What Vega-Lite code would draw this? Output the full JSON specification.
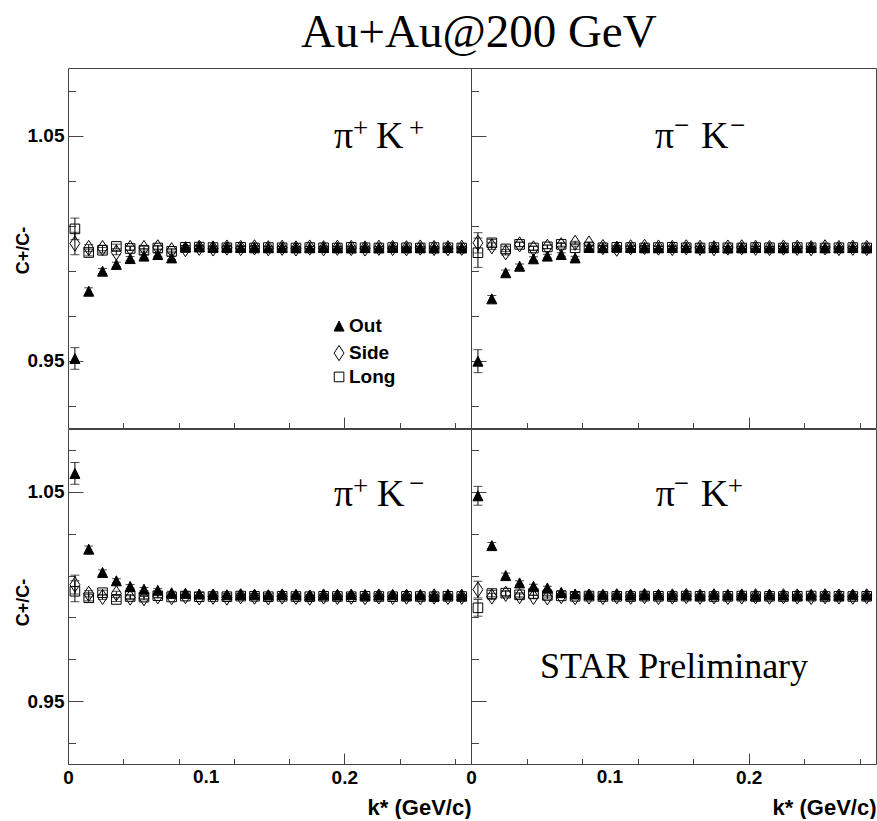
{
  "$schema": "https://vega.github.io/schema/vega-lite/v6.json",
  "padding": {"left": 13, "top": 8, "right": 0, "bottom": 0},
  "title": {"text": "Au+Au@200 GeV", "font": "Liberation Serif", "fontSize": 47, "fontWeight": "normal", "color": "black", "anchor": "start", "frame": "group", "baseline": "alphabetic", "offset": -26, "dx": 233},
  "config": {
    "view": {"stroke": "#444", "strokeWidth": 1},
    "axis": {"labelFont": "Liberation Sans", "labelFontWeight": "bold", "labelFontSize": 19, "labelColor": "black", "labelFlush": false, "labelOverlap": false, "labelBound": false, "titleFont": "Liberation Sans", "titleFontWeight": "bold", "titleColor": "black", "domain": false, "grid": false, "tickColor": "#444", "tickWidth": 1}
  },
  "datasets": {
    "pts": [
      {"panel":"TL","series":"Out","k":0.005,"ratio":0.9509,"err":0.0048},
      {"panel":"TL","series":"Out","k":0.015,"ratio":0.9808,"err":0.0015},
      {"panel":"TL","series":"Out","k":0.025,"ratio":0.9897,"err":0.0012},
      {"panel":"TL","series":"Out","k":0.035,"ratio":0.9927,"err":0.001},
      {"panel":"TL","series":"Out","k":0.045,"ratio":0.9953,"err":0.0009},
      {"panel":"TL","series":"Out","k":0.055,"ratio":0.9964,"err":0.0008},
      {"panel":"TL","series":"Out","k":0.065,"ratio":0.9971,"err":0.0008},
      {"panel":"TL","series":"Out","k":0.075,"ratio":0.9956,"err":0.0007},
      {"panel":"TL","series":"Out","k":0.085,"ratio":1.0004,"err":0.0007},
      {"panel":"TL","series":"Out","k":0.095,"ratio":1.0006,"err":0.0007},
      {"panel":"TL","series":"Out","k":0.105,"ratio":1.0003,"err":0.0006},
      {"panel":"TL","series":"Out","k":0.115,"ratio":1.0005,"err":0.0006},
      {"panel":"TL","series":"Out","k":0.125,"ratio":1.0002,"err":0.0006},
      {"panel":"TL","series":"Out","k":0.135,"ratio":1.0004,"err":0.0006},
      {"panel":"TL","series":"Out","k":0.145,"ratio":1.0001,"err":0.0006},
      {"panel":"TL","series":"Out","k":0.155,"ratio":1.0003,"err":0.0005},
      {"panel":"TL","series":"Out","k":0.165,"ratio":1.0002,"err":0.0005},
      {"panel":"TL","series":"Out","k":0.175,"ratio":1.0001,"err":0.0005},
      {"panel":"TL","series":"Out","k":0.185,"ratio":1.0003,"err":0.0005},
      {"panel":"TL","series":"Out","k":0.195,"ratio":1.0002,"err":0.0005},
      {"panel":"TL","series":"Out","k":0.205,"ratio":1.0000,"err":0.0005},
      {"panel":"TL","series":"Out","k":0.215,"ratio":1.0002,"err":0.0005},
      {"panel":"TL","series":"Out","k":0.225,"ratio":1.0001,"err":0.0005},
      {"panel":"TL","series":"Out","k":0.235,"ratio":1.0003,"err":0.0004},
      {"panel":"TL","series":"Out","k":0.245,"ratio":1.0001,"err":0.0004},
      {"panel":"TL","series":"Out","k":0.255,"ratio":1.0002,"err":0.0004},
      {"panel":"TL","series":"Out","k":0.265,"ratio":1.0000,"err":0.0004},
      {"panel":"TL","series":"Out","k":0.275,"ratio":1.0002,"err":0.0004},
      {"panel":"TL","series":"Out","k":0.285,"ratio":1.0001,"err":0.0004},
      {"panel":"TL","series":"Side","k":0.005,"ratio":1.0020,"err":0.005},
      {"panel":"TL","series":"Side","k":0.015,"ratio":1.0000,"err":0.0015},
      {"panel":"TL","series":"Side","k":0.025,"ratio":1.0000,"err":0.0012},
      {"panel":"TL","series":"Side","k":0.035,"ratio":0.9980,"err":0.001},
      {"panel":"TL","series":"Side","k":0.045,"ratio":1.0000,"err":0.0009},
      {"panel":"TL","series":"Side","k":0.055,"ratio":1.0000,"err":0.0008},
      {"panel":"TL","series":"Side","k":0.065,"ratio":1.0003,"err":0.0008},
      {"panel":"TL","series":"Side","k":0.075,"ratio":0.9990,"err":0.0007},
      {"panel":"TL","series":"Side","k":0.085,"ratio":0.9995,"err":0.0007},
      {"panel":"TL","series":"Side","k":0.095,"ratio":1.0001,"err":0.0007},
      {"panel":"TL","series":"Side","k":0.105,"ratio":0.9998,"err":0.0006},
      {"panel":"TL","series":"Side","k":0.115,"ratio":1.0002,"err":0.0006},
      {"panel":"TL","series":"Side","k":0.125,"ratio":1.0000,"err":0.0006},
      {"panel":"TL","series":"Side","k":0.135,"ratio":1.0003,"err":0.0006},
      {"panel":"TL","series":"Side","k":0.145,"ratio":0.9999,"err":0.0006},
      {"panel":"TL","series":"Side","k":0.155,"ratio":1.0001,"err":0.0005},
      {"panel":"TL","series":"Side","k":0.165,"ratio":0.9998,"err":0.0005},
      {"panel":"TL","series":"Side","k":0.175,"ratio":1.0002,"err":0.0005},
      {"panel":"TL","series":"Side","k":0.185,"ratio":0.9999,"err":0.0005},
      {"panel":"TL","series":"Side","k":0.195,"ratio":1.0001,"err":0.0005},
      {"panel":"TL","series":"Side","k":0.205,"ratio":1.0000,"err":0.0005},
      {"panel":"TL","series":"Side","k":0.215,"ratio":0.9998,"err":0.0005},
      {"panel":"TL","series":"Side","k":0.225,"ratio":1.0001,"err":0.0005},
      {"panel":"TL","series":"Side","k":0.235,"ratio":1.0000,"err":0.0004},
      {"panel":"TL","series":"Side","k":0.245,"ratio":0.9999,"err":0.0004},
      {"panel":"TL","series":"Side","k":0.255,"ratio":1.0002,"err":0.0004},
      {"panel":"TL","series":"Side","k":0.265,"ratio":1.0000,"err":0.0004},
      {"panel":"TL","series":"Side","k":0.275,"ratio":0.9999,"err":0.0004},
      {"panel":"TL","series":"Side","k":0.285,"ratio":1.0001,"err":0.0004},
      {"panel":"TL","series":"Long","k":0.005,"ratio":1.0085,"err":0.0048},
      {"panel":"TL","series":"Long","k":0.015,"ratio":0.9980,"err":0.0015},
      {"panel":"TL","series":"Long","k":0.025,"ratio":0.9990,"err":0.0012},
      {"panel":"TL","series":"Long","k":0.035,"ratio":1.0007,"err":0.001},
      {"panel":"TL","series":"Long","k":0.045,"ratio":0.9998,"err":0.0009},
      {"panel":"TL","series":"Long","k":0.055,"ratio":0.9990,"err":0.0008},
      {"panel":"TL","series":"Long","k":0.065,"ratio":1.0000,"err":0.0008},
      {"panel":"TL","series":"Long","k":0.075,"ratio":0.9985,"err":0.0007},
      {"panel":"TL","series":"Long","k":0.085,"ratio":1.0003,"err":0.0007},
      {"panel":"TL","series":"Long","k":0.095,"ratio":1.0004,"err":0.0007},
      {"panel":"TL","series":"Long","k":0.105,"ratio":1.0002,"err":0.0006},
      {"panel":"TL","series":"Long","k":0.115,"ratio":1.0001,"err":0.0006},
      {"panel":"TL","series":"Long","k":0.125,"ratio":1.0003,"err":0.0006},
      {"panel":"TL","series":"Long","k":0.135,"ratio":1.0000,"err":0.0006},
      {"panel":"TL","series":"Long","k":0.145,"ratio":1.0002,"err":0.0006},
      {"panel":"TL","series":"Long","k":0.155,"ratio":1.0001,"err":0.0005},
      {"panel":"TL","series":"Long","k":0.165,"ratio":1.0000,"err":0.0005},
      {"panel":"TL","series":"Long","k":0.175,"ratio":1.0002,"err":0.0005},
      {"panel":"TL","series":"Long","k":0.185,"ratio":1.0001,"err":0.0005},
      {"panel":"TL","series":"Long","k":0.195,"ratio":1.0000,"err":0.0005},
      {"panel":"TL","series":"Long","k":0.205,"ratio":1.0003,"err":0.0005},
      {"panel":"TL","series":"Long","k":0.215,"ratio":1.0001,"err":0.0005},
      {"panel":"TL","series":"Long","k":0.225,"ratio":1.0000,"err":0.0005},
      {"panel":"TL","series":"Long","k":0.235,"ratio":1.0002,"err":0.0004},
      {"panel":"TL","series":"Long","k":0.245,"ratio":1.0001,"err":0.0004},
      {"panel":"TL","series":"Long","k":0.255,"ratio":1.0000,"err":0.0004},
      {"panel":"TL","series":"Long","k":0.265,"ratio":1.0002,"err":0.0004},
      {"panel":"TL","series":"Long","k":0.275,"ratio":1.0001,"err":0.0004},
      {"panel":"TL","series":"Long","k":0.285,"ratio":1.0000,"err":0.0004},
      {"panel":"TR","series":"Out","k":0.005,"ratio":0.9497,"err":0.0051},
      {"panel":"TR","series":"Out","k":0.015,"ratio":0.9774,"err":0.0015},
      {"panel":"TR","series":"Out","k":0.025,"ratio":0.9890,"err":0.0012},
      {"panel":"TR","series":"Out","k":0.035,"ratio":0.9919,"err":0.001},
      {"panel":"TR","series":"Out","k":0.045,"ratio":0.9952,"err":0.0009},
      {"panel":"TR","series":"Out","k":0.055,"ratio":0.9964,"err":0.0008},
      {"panel":"TR","series":"Out","k":0.065,"ratio":0.9971,"err":0.0008},
      {"panel":"TR","series":"Out","k":0.075,"ratio":0.9956,"err":0.0007},
      {"panel":"TR","series":"Out","k":0.085,"ratio":1.0003,"err":0.0007},
      {"panel":"TR","series":"Out","k":0.095,"ratio":1.0002,"err":0.0007},
      {"panel":"TR","series":"Out","k":0.105,"ratio":1.0004,"err":0.0006},
      {"panel":"TR","series":"Out","k":0.115,"ratio":1.0002,"err":0.0006},
      {"panel":"TR","series":"Out","k":0.125,"ratio":1.0003,"err":0.0006},
      {"panel":"TR","series":"Out","k":0.135,"ratio":1.0001,"err":0.0006},
      {"panel":"TR","series":"Out","k":0.145,"ratio":1.0002,"err":0.0006},
      {"panel":"TR","series":"Out","k":0.155,"ratio":1.0003,"err":0.0005},
      {"panel":"TR","series":"Out","k":0.165,"ratio":1.0001,"err":0.0005},
      {"panel":"TR","series":"Out","k":0.175,"ratio":1.0002,"err":0.0005},
      {"panel":"TR","series":"Out","k":0.185,"ratio":1.0000,"err":0.0005},
      {"panel":"TR","series":"Out","k":0.195,"ratio":1.0003,"err":0.0005},
      {"panel":"TR","series":"Out","k":0.205,"ratio":1.0002,"err":0.0005},
      {"panel":"TR","series":"Out","k":0.215,"ratio":1.0001,"err":0.0005},
      {"panel":"TR","series":"Out","k":0.225,"ratio":1.0002,"err":0.0005},
      {"panel":"TR","series":"Out","k":0.235,"ratio":1.0001,"err":0.0004},
      {"panel":"TR","series":"Out","k":0.245,"ratio":1.0003,"err":0.0004},
      {"panel":"TR","series":"Out","k":0.255,"ratio":1.0002,"err":0.0004},
      {"panel":"TR","series":"Out","k":0.265,"ratio":1.0001,"err":0.0004},
      {"panel":"TR","series":"Out","k":0.275,"ratio":1.0002,"err":0.0004},
      {"panel":"TR","series":"Out","k":0.285,"ratio":1.0001,"err":0.0004},
      {"panel":"TR","series":"Side","k":0.005,"ratio":1.0023,"err":0.0045},
      {"panel":"TR","series":"Side","k":0.015,"ratio":1.0008,"err":0.0015},
      {"panel":"TR","series":"Side","k":0.025,"ratio":0.9981,"err":0.0012},
      {"panel":"TR","series":"Side","k":0.035,"ratio":1.0016,"err":0.001},
      {"panel":"TR","series":"Side","k":0.045,"ratio":0.9998,"err":0.0009},
      {"panel":"TR","series":"Side","k":0.055,"ratio":1.0005,"err":0.0008},
      {"panel":"TR","series":"Side","k":0.065,"ratio":1.0012,"err":0.0008},
      {"panel":"TR","series":"Side","k":0.075,"ratio":1.0023,"err":0.0007},
      {"panel":"TR","series":"Side","k":0.085,"ratio":1.0020,"err":0.0007},
      {"panel":"TR","series":"Side","k":0.095,"ratio":1.0004,"err":0.0007},
      {"panel":"TR","series":"Side","k":0.105,"ratio":0.9997,"err":0.0006},
      {"panel":"TR","series":"Side","k":0.115,"ratio":1.0003,"err":0.0006},
      {"panel":"TR","series":"Side","k":0.125,"ratio":1.0005,"err":0.0006},
      {"panel":"TR","series":"Side","k":0.135,"ratio":1.0002,"err":0.0006},
      {"panel":"TR","series":"Side","k":0.145,"ratio":1.0000,"err":0.0006},
      {"panel":"TR","series":"Side","k":0.155,"ratio":1.0003,"err":0.0005},
      {"panel":"TR","series":"Side","k":0.165,"ratio":1.0001,"err":0.0005},
      {"panel":"TR","series":"Side","k":0.175,"ratio":0.9999,"err":0.0005},
      {"panel":"TR","series":"Side","k":0.185,"ratio":1.0002,"err":0.0005},
      {"panel":"TR","series":"Side","k":0.195,"ratio":1.0003,"err":0.0005},
      {"panel":"TR","series":"Side","k":0.205,"ratio":1.0001,"err":0.0005},
      {"panel":"TR","series":"Side","k":0.215,"ratio":1.0000,"err":0.0005},
      {"panel":"TR","series":"Side","k":0.225,"ratio":1.0002,"err":0.0005},
      {"panel":"TR","series":"Side","k":0.235,"ratio":1.0001,"err":0.0004},
      {"panel":"TR","series":"Side","k":0.245,"ratio":0.9999,"err":0.0004},
      {"panel":"TR","series":"Side","k":0.255,"ratio":1.0003,"err":0.0004},
      {"panel":"TR","series":"Side","k":0.265,"ratio":1.0000,"err":0.0004},
      {"panel":"TR","series":"Side","k":0.275,"ratio":1.0001,"err":0.0004},
      {"panel":"TR","series":"Side","k":0.285,"ratio":1.0000,"err":0.0004},
      {"panel":"TR","series":"Long","k":0.005,"ratio":0.9979,"err":0.0065},
      {"panel":"TR","series":"Long","k":0.015,"ratio":1.0023,"err":0.0015},
      {"panel":"TR","series":"Long","k":0.025,"ratio":0.9996,"err":0.0012},
      {"panel":"TR","series":"Long","k":0.035,"ratio":1.0016,"err":0.001},
      {"panel":"TR","series":"Long","k":0.045,"ratio":1.0000,"err":0.0009},
      {"panel":"TR","series":"Long","k":0.055,"ratio":1.0005,"err":0.0008},
      {"panel":"TR","series":"Long","k":0.065,"ratio":1.0016,"err":0.0008},
      {"panel":"TR","series":"Long","k":0.075,"ratio":1.0001,"err":0.0007},
      {"panel":"TR","series":"Long","k":0.085,"ratio":1.0002,"err":0.0007},
      {"panel":"TR","series":"Long","k":0.095,"ratio":1.0001,"err":0.0007},
      {"panel":"TR","series":"Long","k":0.105,"ratio":1.0003,"err":0.0006},
      {"panel":"TR","series":"Long","k":0.115,"ratio":1.0002,"err":0.0006},
      {"panel":"TR","series":"Long","k":0.125,"ratio":1.0000,"err":0.0006},
      {"panel":"TR","series":"Long","k":0.135,"ratio":1.0002,"err":0.0006},
      {"panel":"TR","series":"Long","k":0.145,"ratio":1.0003,"err":0.0006},
      {"panel":"TR","series":"Long","k":0.155,"ratio":1.0001,"err":0.0005},
      {"panel":"TR","series":"Long","k":0.165,"ratio":1.0000,"err":0.0005},
      {"panel":"TR","series":"Long","k":0.175,"ratio":1.0002,"err":0.0005},
      {"panel":"TR","series":"Long","k":0.185,"ratio":1.0001,"err":0.0005},
      {"panel":"TR","series":"Long","k":0.195,"ratio":1.0000,"err":0.0005},
      {"panel":"TR","series":"Long","k":0.205,"ratio":1.0002,"err":0.0005},
      {"panel":"TR","series":"Long","k":0.215,"ratio":1.0001,"err":0.0005},
      {"panel":"TR","series":"Long","k":0.225,"ratio":1.0000,"err":0.0005},
      {"panel":"TR","series":"Long","k":0.235,"ratio":1.0002,"err":0.0004},
      {"panel":"TR","series":"Long","k":0.245,"ratio":1.0001,"err":0.0004},
      {"panel":"TR","series":"Long","k":0.255,"ratio":1.0000,"err":0.0004},
      {"panel":"TR","series":"Long","k":0.265,"ratio":1.0001,"err":0.0004},
      {"panel":"TR","series":"Long","k":0.275,"ratio":1.0002,"err":0.0004},
      {"panel":"TR","series":"Long","k":0.285,"ratio":1.0000,"err":0.0004},
      {"panel":"BL","series":"Out","k":0.005,"ratio":1.0588,"err":0.0052},
      {"panel":"BL","series":"Out","k":0.015,"ratio":1.0226,"err":0.0015},
      {"panel":"BL","series":"Out","k":0.025,"ratio":1.0115,"err":0.0012},
      {"panel":"BL","series":"Out","k":0.035,"ratio":1.0075,"err":0.001},
      {"panel":"BL","series":"Out","k":0.045,"ratio":1.0048,"err":0.0009},
      {"panel":"BL","series":"Out","k":0.055,"ratio":1.0035,"err":0.0008},
      {"panel":"BL","series":"Out","k":0.065,"ratio":1.0030,"err":0.0008},
      {"panel":"BL","series":"Out","k":0.075,"ratio":1.0018,"err":0.0007},
      {"panel":"BL","series":"Out","k":0.085,"ratio":1.0015,"err":0.0007},
      {"panel":"BL","series":"Out","k":0.095,"ratio":1.0012,"err":0.0007},
      {"panel":"BL","series":"Out","k":0.105,"ratio":1.0010,"err":0.0006},
      {"panel":"BL","series":"Out","k":0.115,"ratio":1.0008,"err":0.0006},
      {"panel":"BL","series":"Out","k":0.125,"ratio":1.0010,"err":0.0006},
      {"panel":"BL","series":"Out","k":0.135,"ratio":1.0009,"err":0.0006},
      {"panel":"BL","series":"Out","k":0.145,"ratio":1.0007,"err":0.0006},
      {"panel":"BL","series":"Out","k":0.155,"ratio":1.0010,"err":0.0005},
      {"panel":"BL","series":"Out","k":0.165,"ratio":1.0008,"err":0.0005},
      {"panel":"BL","series":"Out","k":0.175,"ratio":1.0006,"err":0.0005},
      {"panel":"BL","series":"Out","k":0.185,"ratio":1.0008,"err":0.0005},
      {"panel":"BL","series":"Out","k":0.195,"ratio":1.0007,"err":0.0005},
      {"panel":"BL","series":"Out","k":0.205,"ratio":1.0009,"err":0.0005},
      {"panel":"BL","series":"Out","k":0.215,"ratio":1.0006,"err":0.0005},
      {"panel":"BL","series":"Out","k":0.225,"ratio":1.0007,"err":0.0005},
      {"panel":"BL","series":"Out","k":0.235,"ratio":1.0008,"err":0.0004},
      {"panel":"BL","series":"Out","k":0.245,"ratio":1.0006,"err":0.0004},
      {"panel":"BL","series":"Out","k":0.255,"ratio":1.0007,"err":0.0004},
      {"panel":"BL","series":"Out","k":0.265,"ratio":1.0005,"err":0.0004},
      {"panel":"BL","series":"Out","k":0.275,"ratio":1.0007,"err":0.0004},
      {"panel":"BL","series":"Out","k":0.285,"ratio":1.0006,"err":0.0004},
      {"panel":"BL","series":"Side","k":0.005,"ratio":1.0057,"err":0.0045},
      {"panel":"BL","series":"Side","k":0.015,"ratio":1.0013,"err":0.0015},
      {"panel":"BL","series":"Side","k":0.025,"ratio":0.9998,"err":0.0012},
      {"panel":"BL","series":"Side","k":0.035,"ratio":1.0015,"err":0.001},
      {"panel":"BL","series":"Side","k":0.045,"ratio":0.9995,"err":0.0009},
      {"panel":"BL","series":"Side","k":0.055,"ratio":0.9992,"err":0.0008},
      {"panel":"BL","series":"Side","k":0.065,"ratio":1.0001,"err":0.0008},
      {"panel":"BL","series":"Side","k":0.075,"ratio":0.9997,"err":0.0007},
      {"panel":"BL","series":"Side","k":0.085,"ratio":1.0002,"err":0.0007},
      {"panel":"BL","series":"Side","k":0.095,"ratio":0.9996,"err":0.0007},
      {"panel":"BL","series":"Side","k":0.105,"ratio":0.9999,"err":0.0006},
      {"panel":"BL","series":"Side","k":0.115,"ratio":0.9995,"err":0.0006},
      {"panel":"BL","series":"Side","k":0.125,"ratio":1.0001,"err":0.0006},
      {"panel":"BL","series":"Side","k":0.135,"ratio":0.9999,"err":0.0006},
      {"panel":"BL","series":"Side","k":0.145,"ratio":0.9996,"err":0.0006},
      {"panel":"BL","series":"Side","k":0.155,"ratio":1.0000,"err":0.0005},
      {"panel":"BL","series":"Side","k":0.165,"ratio":0.9998,"err":0.0005},
      {"panel":"BL","series":"Side","k":0.175,"ratio":0.9995,"err":0.0005},
      {"panel":"BL","series":"Side","k":0.185,"ratio":1.0000,"err":0.0005},
      {"panel":"BL","series":"Side","k":0.195,"ratio":0.9998,"err":0.0005},
      {"panel":"BL","series":"Side","k":0.205,"ratio":0.9999,"err":0.0005},
      {"panel":"BL","series":"Side","k":0.215,"ratio":0.9997,"err":0.0005},
      {"panel":"BL","series":"Side","k":0.225,"ratio":1.0000,"err":0.0005},
      {"panel":"BL","series":"Side","k":0.235,"ratio":0.9998,"err":0.0004},
      {"panel":"BL","series":"Side","k":0.245,"ratio":0.9999,"err":0.0004},
      {"panel":"BL","series":"Side","k":0.255,"ratio":0.9997,"err":0.0004},
      {"panel":"BL","series":"Side","k":0.265,"ratio":1.0000,"err":0.0004},
      {"panel":"BL","series":"Side","k":0.275,"ratio":0.9998,"err":0.0004},
      {"panel":"BL","series":"Side","k":0.285,"ratio":0.9999,"err":0.0004},
      {"panel":"BL","series":"Long","k":0.005,"ratio":1.0025,"err":0.005},
      {"panel":"BL","series":"Long","k":0.015,"ratio":0.9994,"err":0.0015},
      {"panel":"BL","series":"Long","k":0.025,"ratio":1.0018,"err":0.0012},
      {"panel":"BL","series":"Long","k":0.035,"ratio":0.9986,"err":0.001},
      {"panel":"BL","series":"Long","k":0.045,"ratio":1.0000,"err":0.0009},
      {"panel":"BL","series":"Long","k":0.055,"ratio":0.9997,"err":0.0008},
      {"panel":"BL","series":"Long","k":0.065,"ratio":1.0004,"err":0.0008},
      {"panel":"BL","series":"Long","k":0.075,"ratio":0.9998,"err":0.0007},
      {"panel":"BL","series":"Long","k":0.085,"ratio":1.0002,"err":0.0007},
      {"panel":"BL","series":"Long","k":0.095,"ratio":0.9999,"err":0.0007},
      {"panel":"BL","series":"Long","k":0.105,"ratio":1.0000,"err":0.0006},
      {"panel":"BL","series":"Long","k":0.115,"ratio":0.9999,"err":0.0006},
      {"panel":"BL","series":"Long","k":0.125,"ratio":1.0002,"err":0.0006},
      {"panel":"BL","series":"Long","k":0.135,"ratio":1.0001,"err":0.0006},
      {"panel":"BL","series":"Long","k":0.145,"ratio":0.9999,"err":0.0006},
      {"panel":"BL","series":"Long","k":0.155,"ratio":1.0001,"err":0.0005},
      {"panel":"BL","series":"Long","k":0.165,"ratio":1.0000,"err":0.0005},
      {"panel":"BL","series":"Long","k":0.175,"ratio":0.9999,"err":0.0005},
      {"panel":"BL","series":"Long","k":0.185,"ratio":1.0001,"err":0.0005},
      {"panel":"BL","series":"Long","k":0.195,"ratio":1.0000,"err":0.0005},
      {"panel":"BL","series":"Long","k":0.205,"ratio":0.9999,"err":0.0005},
      {"panel":"BL","series":"Long","k":0.215,"ratio":1.0001,"err":0.0005},
      {"panel":"BL","series":"Long","k":0.225,"ratio":1.0000,"err":0.0005},
      {"panel":"BL","series":"Long","k":0.235,"ratio":0.9999,"err":0.0004},
      {"panel":"BL","series":"Long","k":0.245,"ratio":1.0001,"err":0.0004},
      {"panel":"BL","series":"Long","k":0.255,"ratio":1.0000,"err":0.0004},
      {"panel":"BL","series":"Long","k":0.265,"ratio":0.9999,"err":0.0004},
      {"panel":"BL","series":"Long","k":0.275,"ratio":1.0001,"err":0.0004},
      {"panel":"BL","series":"Long","k":0.285,"ratio":1.0000,"err":0.0004},
      {"panel":"BR","series":"Out","k":0.005,"ratio":1.0481,"err":0.0045},
      {"panel":"BR","series":"Out","k":0.015,"ratio":1.0243,"err":0.0015},
      {"panel":"BR","series":"Out","k":0.025,"ratio":1.0100,"err":0.0012},
      {"panel":"BR","series":"Out","k":0.035,"ratio":1.0065,"err":0.001},
      {"panel":"BR","series":"Out","k":0.045,"ratio":1.0049,"err":0.0009},
      {"panel":"BR","series":"Out","k":0.055,"ratio":1.0041,"err":0.0008},
      {"panel":"BR","series":"Out","k":0.065,"ratio":1.0020,"err":0.0008},
      {"panel":"BR","series":"Out","k":0.075,"ratio":1.0012,"err":0.0007},
      {"panel":"BR","series":"Out","k":0.085,"ratio":1.0010,"err":0.0007},
      {"panel":"BR","series":"Out","k":0.095,"ratio":1.0008,"err":0.0007},
      {"panel":"BR","series":"Out","k":0.105,"ratio":1.0009,"err":0.0006},
      {"panel":"BR","series":"Out","k":0.115,"ratio":1.0007,"err":0.0006},
      {"panel":"BR","series":"Out","k":0.125,"ratio":1.0010,"err":0.0006},
      {"panel":"BR","series":"Out","k":0.135,"ratio":1.0008,"err":0.0006},
      {"panel":"BR","series":"Out","k":0.145,"ratio":1.0007,"err":0.0006},
      {"panel":"BR","series":"Out","k":0.155,"ratio":1.0009,"err":0.0005},
      {"panel":"BR","series":"Out","k":0.165,"ratio":1.0006,"err":0.0005},
      {"panel":"BR","series":"Out","k":0.175,"ratio":1.0008,"err":0.0005},
      {"panel":"BR","series":"Out","k":0.185,"ratio":1.0007,"err":0.0005},
      {"panel":"BR","series":"Out","k":0.195,"ratio":1.0009,"err":0.0005},
      {"panel":"BR","series":"Out","k":0.205,"ratio":1.0006,"err":0.0005},
      {"panel":"BR","series":"Out","k":0.215,"ratio":1.0008,"err":0.0005},
      {"panel":"BR","series":"Out","k":0.225,"ratio":1.0007,"err":0.0005},
      {"panel":"BR","series":"Out","k":0.235,"ratio":1.0006,"err":0.0004},
      {"panel":"BR","series":"Out","k":0.245,"ratio":1.0008,"err":0.0004},
      {"panel":"BR","series":"Out","k":0.255,"ratio":1.0007,"err":0.0004},
      {"panel":"BR","series":"Out","k":0.265,"ratio":1.0006,"err":0.0004},
      {"panel":"BR","series":"Out","k":0.275,"ratio":1.0008,"err":0.0004},
      {"panel":"BR","series":"Out","k":0.285,"ratio":1.0007,"err":0.0004},
      {"panel":"BR","series":"Side","k":0.005,"ratio":1.0033,"err":0.004},
      {"panel":"BR","series":"Side","k":0.015,"ratio":1.0000,"err":0.0015},
      {"panel":"BR","series":"Side","k":0.025,"ratio":1.0013,"err":0.0012},
      {"panel":"BR","series":"Side","k":0.035,"ratio":1.0002,"err":0.001},
      {"panel":"BR","series":"Side","k":0.045,"ratio":0.9998,"err":0.0009},
      {"panel":"BR","series":"Side","k":0.055,"ratio":0.9996,"err":0.0008},
      {"panel":"BR","series":"Side","k":0.065,"ratio":1.0002,"err":0.0008},
      {"panel":"BR","series":"Side","k":0.075,"ratio":0.9997,"err":0.0007},
      {"panel":"BR","series":"Side","k":0.085,"ratio":1.0000,"err":0.0007},
      {"panel":"BR","series":"Side","k":0.095,"ratio":0.9998,"err":0.0007},
      {"panel":"BR","series":"Side","k":0.105,"ratio":1.0001,"err":0.0006},
      {"panel":"BR","series":"Side","k":0.115,"ratio":0.9999,"err":0.0006},
      {"panel":"BR","series":"Side","k":0.125,"ratio":1.0002,"err":0.0006},
      {"panel":"BR","series":"Side","k":0.135,"ratio":0.9998,"err":0.0006},
      {"panel":"BR","series":"Side","k":0.145,"ratio":1.0000,"err":0.0006},
      {"panel":"BR","series":"Side","k":0.155,"ratio":1.0002,"err":0.0005},
      {"panel":"BR","series":"Side","k":0.165,"ratio":0.9999,"err":0.0005},
      {"panel":"BR","series":"Side","k":0.175,"ratio":1.0001,"err":0.0005},
      {"panel":"BR","series":"Side","k":0.185,"ratio":0.9998,"err":0.0005},
      {"panel":"BR","series":"Side","k":0.195,"ratio":1.0000,"err":0.0005},
      {"panel":"BR","series":"Side","k":0.205,"ratio":1.0001,"err":0.0005},
      {"panel":"BR","series":"Side","k":0.215,"ratio":0.9999,"err":0.0005},
      {"panel":"BR","series":"Side","k":0.225,"ratio":1.0001,"err":0.0005},
      {"panel":"BR","series":"Side","k":0.235,"ratio":1.0000,"err":0.0004},
      {"panel":"BR","series":"Side","k":0.245,"ratio":0.9998,"err":0.0004},
      {"panel":"BR","series":"Side","k":0.255,"ratio":1.0001,"err":0.0004},
      {"panel":"BR","series":"Side","k":0.265,"ratio":1.0000,"err":0.0004},
      {"panel":"BR","series":"Side","k":0.275,"ratio":0.9999,"err":0.0004},
      {"panel":"BR","series":"Side","k":0.285,"ratio":1.0001,"err":0.0004},
      {"panel":"BR","series":"Long","k":0.005,"ratio":0.9946,"err":0.004},
      {"panel":"BR","series":"Long","k":0.015,"ratio":1.0014,"err":0.0015},
      {"panel":"BR","series":"Long","k":0.025,"ratio":1.0016,"err":0.0012},
      {"panel":"BR","series":"Long","k":0.035,"ratio":1.0008,"err":0.001},
      {"panel":"BR","series":"Long","k":0.045,"ratio":1.0014,"err":0.0009},
      {"panel":"BR","series":"Long","k":0.055,"ratio":1.0005,"err":0.0008},
      {"panel":"BR","series":"Long","k":0.065,"ratio":1.0003,"err":0.0008},
      {"panel":"BR","series":"Long","k":0.075,"ratio":1.0001,"err":0.0007},
      {"panel":"BR","series":"Long","k":0.085,"ratio":1.0002,"err":0.0007},
      {"panel":"BR","series":"Long","k":0.095,"ratio":1.0000,"err":0.0007},
      {"panel":"BR","series":"Long","k":0.105,"ratio":1.0001,"err":0.0006},
      {"panel":"BR","series":"Long","k":0.115,"ratio":1.0000,"err":0.0006},
      {"panel":"BR","series":"Long","k":0.125,"ratio":1.0002,"err":0.0006},
      {"panel":"BR","series":"Long","k":0.135,"ratio":1.0001,"err":0.0006},
      {"panel":"BR","series":"Long","k":0.145,"ratio":1.0000,"err":0.0006},
      {"panel":"BR","series":"Long","k":0.155,"ratio":1.0002,"err":0.0005},
      {"panel":"BR","series":"Long","k":0.165,"ratio":1.0001,"err":0.0005},
      {"panel":"BR","series":"Long","k":0.175,"ratio":1.0000,"err":0.0005},
      {"panel":"BR","series":"Long","k":0.185,"ratio":1.0001,"err":0.0005},
      {"panel":"BR","series":"Long","k":0.195,"ratio":1.0002,"err":0.0005},
      {"panel":"BR","series":"Long","k":0.205,"ratio":1.0000,"err":0.0005},
      {"panel":"BR","series":"Long","k":0.215,"ratio":1.0001,"err":0.0005},
      {"panel":"BR","series":"Long","k":0.225,"ratio":1.0000,"err":0.0005},
      {"panel":"BR","series":"Long","k":0.235,"ratio":1.0001,"err":0.0004},
      {"panel":"BR","series":"Long","k":0.245,"ratio":1.0002,"err":0.0004},
      {"panel":"BR","series":"Long","k":0.255,"ratio":1.0000,"err":0.0004},
      {"panel":"BR","series":"Long","k":0.265,"ratio":1.0001,"err":0.0004},
      {"panel":"BR","series":"Long","k":0.275,"ratio":1.0000,"err":0.0004},
      {"panel":"BR","series":"Long","k":0.285,"ratio":1.0001,"err":0.0004}
    ]
  },
  "spacing": -2,
  "vconcat": [
    {
      "bounds": "flush",
      "spacing": 0,
      "hconcat": [
        {
          "width": 403, "height": 360,
          "layer": [
            {"data": {"name": "pts"},
             "transform": [{"filter": "datum.panel == 'TL'"}],
             "encoding": {
               "x": {"field": "k", "type": "quantitative", "scale": {"domain": [0, 0.2917], "nice": false, "zero": false},
                     "axis": {"values": [0,0.02,0.04,0.06,0.08,0.1,0.12,0.14,0.16,0.18,0.2,0.22,0.24,0.26,0.28], "labels": false, "title": null, "labelOverlap": false,
                              "tickSize": {"condition": {"test": "abs(datum.value*10 - round(datum.value*10)) < 0.001", "value": -11}, "value": -5.5}}},
               "y": {"field": "ratio", "type": "quantitative", "scale": {"domain": [0.92, 1.08], "nice": false, "zero": false},
                     "axis": {"values": [0.93,0.94,0.95,0.96,0.97,0.98,0.99,1,1.01,1.02,1.03,1.04,1.05,1.06,1.07], "format": "~g", "labelOverlap": false,
                              "labelExpr": "abs(datum.value*20 - round(datum.value*20)) < 0.001 ? datum.label : ''",
                              "labelPadding": 19,
                              "tickSize": {"condition": {"test": "abs(datum.value*20 - round(datum.value*20)) < 0.001", "value": -15}, "value": -7.5},
                              "title": "C+/C-", "titleFontSize": 18, "titleX": -45, "titleY": 182, "titleAngle": -90, "titleAlign": "center", "titleBaseline": "middle"}}
             },
             "layer": [
               {"mark": {"type": "errorbar", "ticks": {"size": 9}, "color": "black"}, "encoding": {"yError": {"field": "err"}}},
               {"mark": {"type": "point", "size": 256, "stroke": "black", "strokeWidth": 1, "opacity": 1},
                "encoding": {
                  "shape": {"field": "series", "type": "nominal", "scale": {"domain": ["Out","Side","Long"], "range": ["M0,-0.625L0.625,0.625L-0.625,0.625Z", "M0,-0.95L0.62,0L0,0.95L-0.62,0Z", "M-0.6,-0.6L0.6,-0.6L0.6,0.6L-0.6,0.6Z"]}, "legend": null},
                  "fill": {"field": "series", "type": "nominal", "scale": {"domain": ["Out","Side","Long"], "range": ["black","transparent","transparent"]}, "legend": null}
                }}
             ]},
            {"data": {"values": [{}]},
             "encoding": {"x": {"datum": 0.1925, "type": "quantitative"}, "y": {"datum": 1.0444, "type": "quantitative"}},
             "layer": [
               {"mark": {"type": "text", "text": "π", "font": "Liberation Serif", "fontSize": 38, "align": "left", "baseline": "alphabetic", "color": "black"}},
               {"mark": {"type": "text", "text": "+", "font": "Liberation Serif", "fontSize": 27, "align": "left", "baseline": "alphabetic", "color": "black", "dx": 19, "dy": -11}},
               {"mark": {"type": "text", "text": "K", "font": "Liberation Serif", "fontSize": 38, "align": "left", "baseline": "alphabetic", "color": "black", "dx": 42}},
               {"mark": {"type": "text", "text": "+", "font": "Liberation Serif", "fontSize": 27, "align": "left", "baseline": "alphabetic", "color": "black", "dx": 75, "dy": -11}}
             ]},
            {"data": {"values": [{}]},
             "layer": [
               {"mark": {"type": "point", "shape": "M0,-0.625L0.625,0.625L-0.625,0.625Z", "size": 256, "fill": "black", "stroke": "black", "strokeWidth": 1, "opacity": 1},
                "encoding": {"x": {"datum": 0.1962, "type": "quantitative"}, "y": {"datum": 0.9653, "type": "quantitative"}}},
               {"mark": {"type": "point", "shape": "M0,-0.95L0.62,0L0,0.95L-0.62,0Z", "size": 256, "fill": "transparent", "stroke": "black", "strokeWidth": 1, "opacity": 1},
                "encoding": {"x": {"datum": 0.1962, "type": "quantitative"}, "y": {"datum": 0.9533, "type": "quantitative"}}},
               {"mark": {"type": "point", "shape": "M-0.6,-0.6L0.6,-0.6L0.6,0.6L-0.6,0.6Z", "size": 256, "fill": "transparent", "stroke": "black", "strokeWidth": 1, "opacity": 1},
                "encoding": {"x": {"datum": 0.1962, "type": "quantitative"}, "y": {"datum": 0.9427, "type": "quantitative"}}},
               {"mark": {"type": "text", "text": "Out", "font": "Liberation Sans", "fontWeight": "bold", "fontSize": 19, "align": "left", "baseline": "middle", "color": "black"},
                "encoding": {"x": {"datum": 0.2034, "type": "quantitative"}, "y": {"datum": 0.9653, "type": "quantitative"}}},
               {"mark": {"type": "text", "text": "Side", "font": "Liberation Sans", "fontWeight": "bold", "fontSize": 19, "align": "left", "baseline": "middle", "color": "black"},
                "encoding": {"x": {"datum": 0.2034, "type": "quantitative"}, "y": {"datum": 0.9533, "type": "quantitative"}}},
               {"mark": {"type": "text", "text": "Long", "font": "Liberation Sans", "fontWeight": "bold", "fontSize": 19, "align": "left", "baseline": "middle", "color": "black"},
                "encoding": {"x": {"datum": 0.2034, "type": "quantitative"}, "y": {"datum": 0.9427, "type": "quantitative"}}}
             ]}
          ]
        },
        {
          "width": 405, "height": 360,
          "layer": [
            {"data": {"name": "pts"},
             "transform": [{"filter": "datum.panel == 'TR'"}],
             "encoding": {
               "x": {"field": "k", "type": "quantitative", "scale": {"domain": [0, 0.2917], "nice": false, "zero": false},
                     "axis": {"values": [0,0.02,0.04,0.06,0.08,0.1,0.12,0.14,0.16,0.18,0.2,0.22,0.24,0.26,0.28], "labels": false, "title": null, "labelOverlap": false,
                              "tickSize": {"condition": {"test": "abs(datum.value*10 - round(datum.value*10)) < 0.001", "value": -11}, "value": -5.5}}},
               "y": {"field": "ratio", "type": "quantitative", "scale": {"domain": [0.92, 1.08], "nice": false, "zero": false},
                     "axis": {"values": [0.93,0.94,0.95,0.96,0.97,0.98,0.99,1,1.01,1.02,1.03,1.04,1.05,1.06,1.07], "labels": false, "title": null, "labelOverlap": false,
                              "tickSize": {"condition": {"test": "abs(datum.value*20 - round(datum.value*20)) < 0.001", "value": -15}, "value": -7.5}}}
             },
             "layer": [
               {"mark": {"type": "errorbar", "ticks": {"size": 9}, "color": "black"}, "encoding": {"yError": {"field": "err"}}},
               {"mark": {"type": "point", "size": 256, "stroke": "black", "strokeWidth": 1, "opacity": 1},
                "encoding": {
                  "shape": {"field": "series", "type": "nominal", "scale": {"domain": ["Out","Side","Long"], "range": ["M0,-0.625L0.625,0.625L-0.625,0.625Z", "M0,-0.95L0.62,0L0,0.95L-0.62,0Z", "M-0.6,-0.6L0.6,-0.6L0.6,0.6L-0.6,0.6Z"]}, "legend": null},
                  "fill": {"field": "series", "type": "nominal", "scale": {"domain": ["Out","Side","Long"], "range": ["black","transparent","transparent"]}, "legend": null}
                }}
             ]},
            {"data": {"values": [{}]},
             "encoding": {"x": {"datum": 0.1325, "type": "quantitative"}, "y": {"datum": 1.0444, "type": "quantitative"}},
             "layer": [
               {"mark": {"type": "text", "text": "π", "font": "Liberation Serif", "fontSize": 38, "align": "left", "baseline": "alphabetic", "color": "black"}},
               {"mark": {"type": "text", "text": "−", "font": "Liberation Serif", "fontSize": 27, "align": "left", "baseline": "alphabetic", "color": "black", "dx": 19, "dy": -14}},
               {"mark": {"type": "text", "text": "K", "font": "Liberation Serif", "fontSize": 38, "align": "left", "baseline": "alphabetic", "color": "black", "dx": 46}},
               {"mark": {"type": "text", "text": "−", "font": "Liberation Serif", "fontSize": 27, "align": "left", "baseline": "alphabetic", "color": "black", "dx": 75, "dy": -14}}
             ]}
          ]
        }
      ]
    },
    {
      "bounds": "flush",
      "spacing": 0,
      "hconcat": [
        {
          "width": 403, "height": 335,
          "layer": [
            {"data": {"name": "pts"},
             "transform": [{"filter": "datum.panel == 'BL'"}],
             "encoding": {
               "x": {"field": "k", "type": "quantitative", "scale": {"domain": [0, 0.2917], "nice": false, "zero": false},
                     "axis": {"values": [0,0.02,0.04,0.06,0.08,0.1,0.12,0.14,0.16,0.18,0.2,0.22,0.24,0.26,0.28], "labelOverlap": false,
                              "labelExpr": "abs(datum.value) < 0.0001 ? '0' : abs(datum.value - 0.1) < 0.0001 ? '0.1' : abs(datum.value - 0.2) < 0.0001 ? '0.2' : ''",
                              "labelPadding": 15,
                              "tickSize": {"condition": {"test": "abs(datum.value*10 - round(datum.value*10)) < 0.001", "value": -11}, "value": -5.5},
                              "title": "k* (GeV/c)", "titleFontSize": 22, "titleX": 403, "titleY": 50, "titleAlign": "right", "titleAnchor": "end", "titleBaseline": "alphabetic"}},
               "y": {"field": "ratio", "type": "quantitative", "scale": {"domain": [0.92, 1.08], "nice": false, "zero": false},
                     "axis": {"values": [0.93,0.94,0.95,0.96,0.97,0.98,0.99,1,1.01,1.02,1.03,1.04,1.05,1.06,1.07], "format": "~g", "labelOverlap": false,
                              "labelExpr": "abs(datum.value*20 - round(datum.value*20)) < 0.001 ? datum.label : ''",
                              "labelPadding": 19,
                              "tickSize": {"condition": {"test": "abs(datum.value*20 - round(datum.value*20)) < 0.001", "value": -15}, "value": -7.5},
                              "title": "C+/C-", "titleFontSize": 18, "titleX": -45, "titleY": 173, "titleAngle": -90, "titleAlign": "center", "titleBaseline": "middle"}}
             },
             "layer": [
               {"mark": {"type": "errorbar", "ticks": {"size": 9}, "color": "black"}, "encoding": {"yError": {"field": "err"}}},
               {"mark": {"type": "point", "size": 256, "stroke": "black", "strokeWidth": 1, "opacity": 1},
                "encoding": {
                  "shape": {"field": "series", "type": "nominal", "scale": {"domain": ["Out","Side","Long"], "range": ["M0,-0.625L0.625,0.625L-0.625,0.625Z", "M0,-0.95L0.62,0L0,0.95L-0.62,0Z", "M-0.6,-0.6L0.6,-0.6L0.6,0.6L-0.6,0.6Z"]}, "legend": null},
                  "fill": {"field": "series", "type": "nominal", "scale": {"domain": ["Out","Side","Long"], "range": ["black","transparent","transparent"]}, "legend": null}
                }}
             ]},
            {"data": {"values": [{}]},
             "encoding": {"x": {"datum": 0.1925, "type": "quantitative"}, "y": {"datum": 1.0432, "type": "quantitative"}},
             "layer": [
               {"mark": {"type": "text", "text": "π", "font": "Liberation Serif", "fontSize": 38, "align": "left", "baseline": "alphabetic", "color": "black"}},
               {"mark": {"type": "text", "text": "+", "font": "Liberation Serif", "fontSize": 27, "align": "left", "baseline": "alphabetic", "color": "black", "dx": 19, "dy": -11}},
               {"mark": {"type": "text", "text": "K", "font": "Liberation Serif", "fontSize": 38, "align": "left", "baseline": "alphabetic", "color": "black", "dx": 43}},
               {"mark": {"type": "text", "text": "−", "font": "Liberation Serif", "fontSize": 27, "align": "left", "baseline": "alphabetic", "color": "black", "dx": 75, "dy": -14}}
             ]},
            {"data": {"values": [{}]},
             "mark": {"type": "text", "text": "0.1", "font": "Liberation Sans", "fontWeight": "bold", "fontSize": 19, "align": "center", "baseline": "top", "color": "black", "dy": 4},
             "encoding": {"x": {"datum": 0.1, "type": "quantitative"}, "y": {"datum": 0.92, "type": "quantitative"}}}
          ]
        },
        {
          "width": 405, "height": 335,
          "layer": [
            {"data": {"name": "pts"},
             "transform": [{"filter": "datum.panel == 'BR'"}],
             "encoding": {
               "x": {"field": "k", "type": "quantitative", "scale": {"domain": [0, 0.2917], "nice": false, "zero": false},
                     "axis": {"values": [0,0.02,0.04,0.06,0.08,0.1,0.12,0.14,0.16,0.18,0.2,0.22,0.24,0.26,0.28], "labelOverlap": false,
                              "labelExpr": "abs(datum.value) < 0.0001 ? '0' : abs(datum.value - 0.1) < 0.0001 ? '0.1' : abs(datum.value - 0.2) < 0.0001 ? '0.2' : ''",
                              "labelPadding": 15,
                              "tickSize": {"condition": {"test": "abs(datum.value*10 - round(datum.value*10)) < 0.001", "value": -11}, "value": -5.5},
                              "title": "k* (GeV/c)", "titleFontSize": 22, "titleX": 405, "titleY": 50, "titleAlign": "right", "titleAnchor": "end", "titleBaseline": "alphabetic"}},
               "y": {"field": "ratio", "type": "quantitative", "scale": {"domain": [0.92, 1.08], "nice": false, "zero": false},
                     "axis": {"values": [0.93,0.94,0.95,0.96,0.97,0.98,0.99,1,1.01,1.02,1.03,1.04,1.05,1.06,1.07], "labels": false, "title": null, "labelOverlap": false,
                              "tickSize": {"condition": {"test": "abs(datum.value*20 - round(datum.value*20)) < 0.001", "value": -15}, "value": -7.5}}}
             },
             "layer": [
               {"mark": {"type": "errorbar", "ticks": {"size": 9}, "color": "black"}, "encoding": {"yError": {"field": "err"}}},
               {"mark": {"type": "point", "size": 256, "stroke": "black", "strokeWidth": 1, "opacity": 1},
                "encoding": {
                  "shape": {"field": "series", "type": "nominal", "scale": {"domain": ["Out","Side","Long"], "range": ["M0,-0.625L0.625,0.625L-0.625,0.625Z", "M0,-0.95L0.62,0L0,0.95L-0.62,0Z", "M-0.6,-0.6L0.6,-0.6L0.6,0.6L-0.6,0.6Z"]}, "legend": null},
                  "fill": {"field": "series", "type": "nominal", "scale": {"domain": ["Out","Side","Long"], "range": ["black","transparent","transparent"]}, "legend": null}
                }}
             ]},
            {"data": {"values": [{}]},
             "encoding": {"x": {"datum": 0.133, "type": "quantitative"}, "y": {"datum": 1.0432, "type": "quantitative"}},
             "layer": [
               {"mark": {"type": "text", "text": "π", "font": "Liberation Serif", "fontSize": 38, "align": "left", "baseline": "alphabetic", "color": "black"}},
               {"mark": {"type": "text", "text": "−", "font": "Liberation Serif", "fontSize": 27, "align": "left", "baseline": "alphabetic", "color": "black", "dx": 18, "dy": -14}},
               {"mark": {"type": "text", "text": "K", "font": "Liberation Serif", "fontSize": 38, "align": "left", "baseline": "alphabetic", "color": "black", "dx": 45}},
               {"mark": {"type": "text", "text": "+", "font": "Liberation Serif", "fontSize": 27, "align": "left", "baseline": "alphabetic", "color": "black", "dx": 72, "dy": -11}}
             ]},
            {"data": {"values": [{}]},
             "mark": {"type": "text", "text": "STAR Preliminary", "font": "Liberation Serif", "fontSize": 36, "align": "left", "baseline": "alphabetic", "color": "black"},
             "encoding": {"x": {"datum": 0.0497, "type": "quantitative"}, "y": {"datum": 0.9611, "type": "quantitative"}}},
            {"data": {"values": [{}]},
             "mark": {"type": "text", "text": "0.1", "font": "Liberation Sans", "fontWeight": "bold", "fontSize": 19, "align": "center", "baseline": "top", "color": "black", "dy": 4},
             "encoding": {"x": {"datum": 0.1, "type": "quantitative"}, "y": {"datum": 0.92, "type": "quantitative"}}}
          ]
        }
      ]
    }
  ]
}
